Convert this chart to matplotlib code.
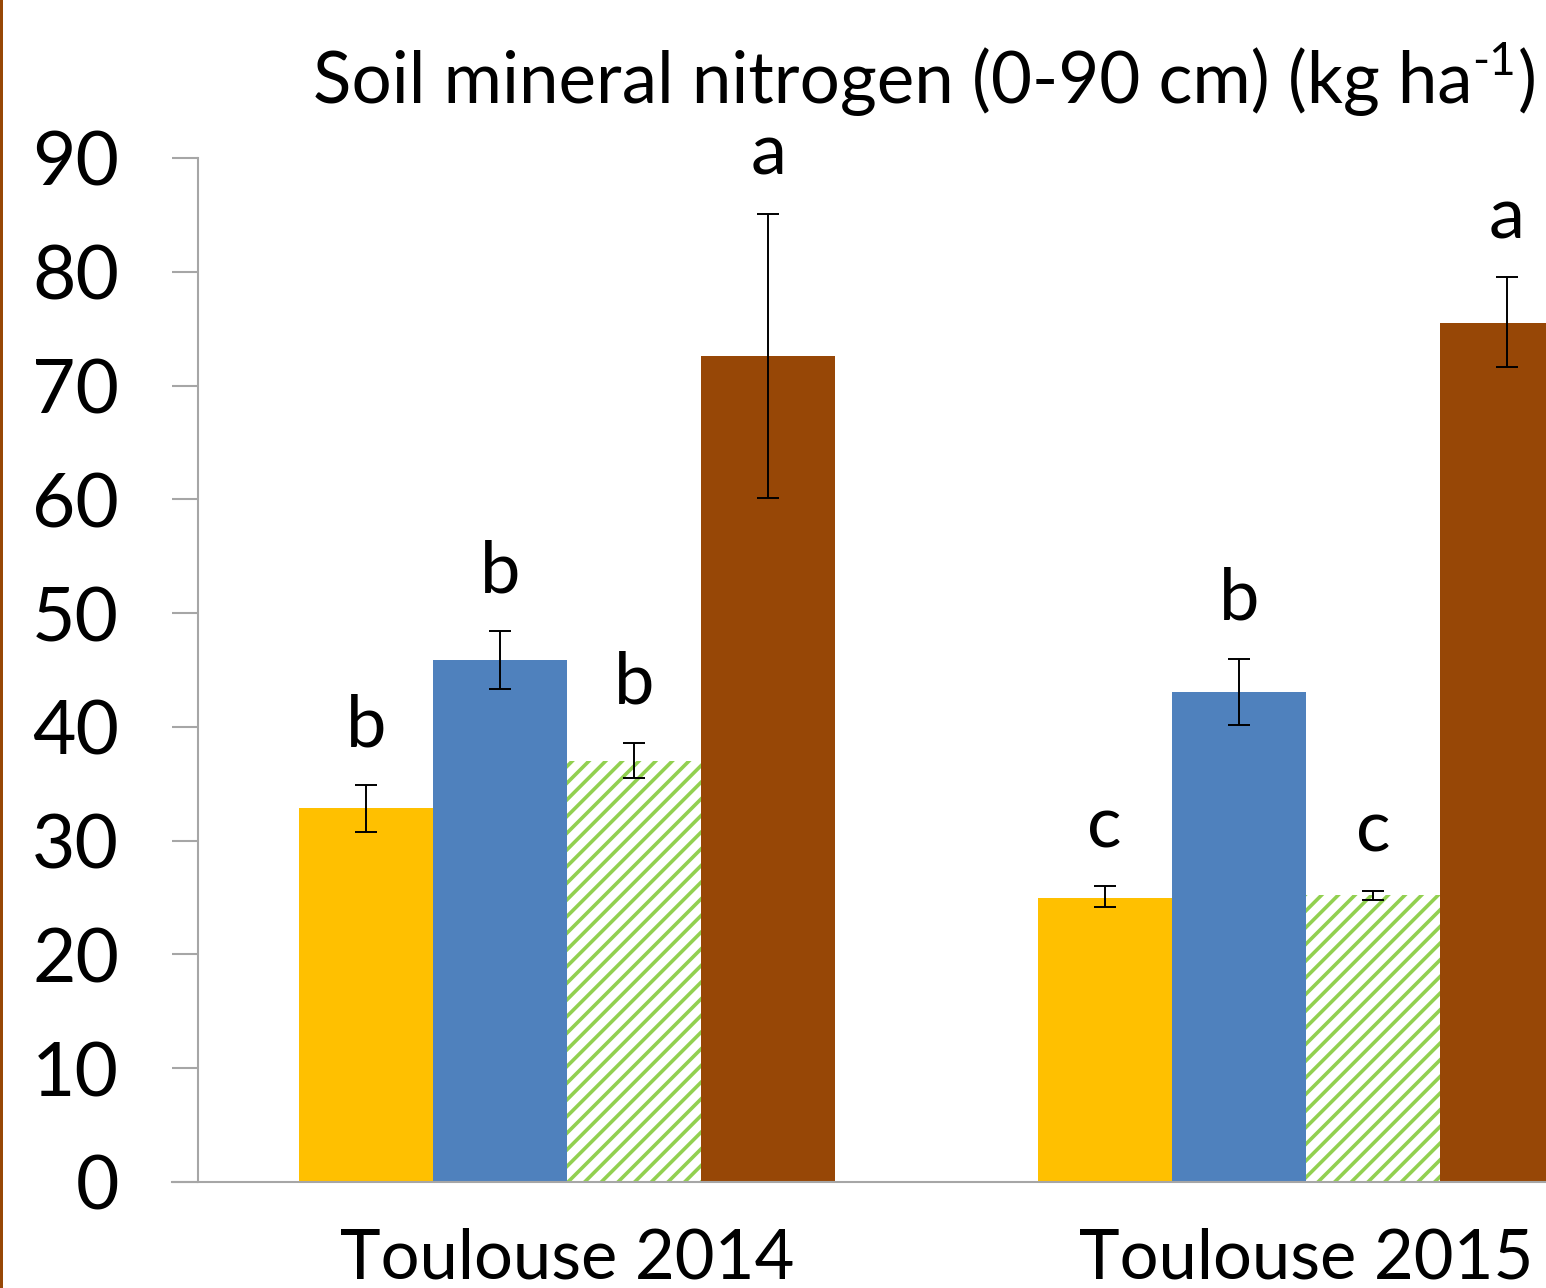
import matplotlib
matplotlib.use("Agg")
import matplotlib.pyplot as plt
import numpy as np

# ---- data ----
categories = ["Toulouse 2014", "Toulouse 2015"]
series_names = ["S1", "S2", "S3", "S4"]
values = {
    "S1": [32.9, 25.0],
    "S2": [45.9, 43.1],
    "S3": [37.0, 25.2],
    "S4": [72.6, 75.5],
}
err_low = {
    "S1": [30.8, 24.2],
    "S2": [43.3, 40.2],
    "S3": [35.5, 24.8],
    "S4": [60.1, 71.6],
}
err_high = {
    "S1": [34.9, 26.0],
    "S2": [48.4, 46.0],
    "S3": [38.6, 25.6],
    "S4": [85.1, 79.5],
}
letters = {
    "S1": ["b", "c"],
    "S2": ["b", "b"],
    "S3": ["b", "c"],
    "S4": ["a", "a"],
}
yticks = [0, 10, 20, 30, 40, 50, 60, 70, 80, 90]
title_main = "Soil mineral nitrogen (0-90 cm) (kg ha"
title_sup = "-1"
title_end = ")"

# ---- style ----
FONT = "Lato"
plt.rcParams["font.family"] = [FONT, "DejaVu Sans"]
plt.rcParams["hatch.linewidth"] = 2.6
plt.rcParams["hatch.color"] = "#92D050"

W, H, DPI = 1546, 1288, 100
fig = plt.figure(figsize=(W / DPI, H / DPI), dpi=DPI)

def px(x0, y0top, x1, y1top):
    return [x0 / W, (H - y1top) / H, (x1 - x0) / W, (y1top - y0top) / H]

ax = fig.add_axes(px(198, 158, 1675, 1182))

colors = {"S1": "#FFC000", "S2": "#4F81BD", "S3": "white", "S4": "#974706"}
hatches = {"S1": None, "S2": None, "S3": "//", "S4": None}

x = np.arange(len(categories))
bw = 0.1816
offsets = [-1.5, -0.5, 0.5, 1.5]

for s, off in zip(series_names, offsets):
    xs = x + off * bw
    v = np.array(values[s])
    lo = v - np.array(err_low[s])
    hi = np.array(err_high[s]) - v
    ax.bar(xs, v, width=bw, color=colors[s], hatch=hatches[s],
           edgecolor="#92D050" if s == "S3" else colors[s], linewidth=0,
           zorder=2)
    ax.errorbar(xs, v, yerr=[lo, hi], fmt="none", ecolor="black",
                elinewidth=1.4, capsize=8, capthick=1.4, zorder=3)
    for xi, top, lab in zip(xs, err_high[s], letters[s]):
        ax.annotate(lab, (xi, top), xytext=(0, 28), textcoords="offset points",
                    ha="center", va="baseline", fontsize=52, color="black")

ax.set_xlim(-0.5, 1.5)
ax.set_ylim(0, 90)
ax.set_yticks(yticks)
ax.set_yticklabels([str(t) for t in yticks], fontsize=54)
ax.set_xticks(x)
ax.set_xticklabels(categories, fontsize=49.5)

for sp in ["top", "right"]:
    ax.spines[sp].set_visible(False)
for sp in ["left", "bottom"]:
    ax.spines[sp].set_color("#A6A6A6")
    ax.spines[sp].set_linewidth(1.5)
ax.spines["bottom"].set_bounds(-0.5 - 26 / 738.5, 1.5)
ax.spines["bottom"].set_clip_on(False)
ax.tick_params(axis="y", direction="out", length=18.7, width=1.5, color="#A6A6A6",
               pad=38)
ax.tick_params(axis="x", length=0, pad=33)

# left brown frame line
fig.add_artist(plt.Rectangle((0, 0), 3 / W, 1, transform=fig.transFigure,
                             color="#974706", lw=0))

# title with superscript
fig.canvas.draw()
r = fig.canvas.get_renderer()
tx, ty = 313 / W, (H - 103) / H
t1 = fig.text(tx, ty, title_main, fontsize=51, ha="left", va="baseline")
bb = t1.get_window_extent(r)
t2 = fig.text(bb.x1 / W, ty + 28 / H, title_sup, fontsize=33, ha="left", va="baseline")
bb2 = t2.get_window_extent(r)
t3 = fig.text(bb2.x1 / W + 2 / W, ty, title_end, fontsize=51, ha="left", va="baseline")

fig.savefig("out.png", dpi=DPI)
